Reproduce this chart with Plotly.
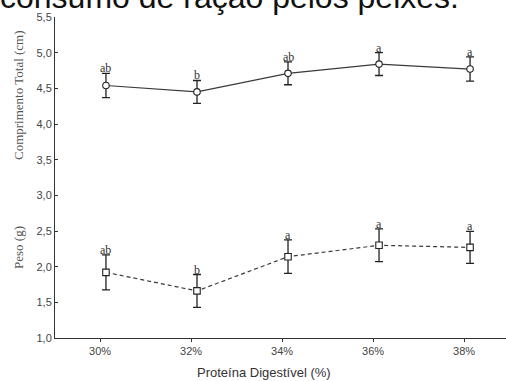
import plotly.graph_objects as go

categories = ["30%", "32%", "34%", "36%", "38%"]
x_vals = [30, 32, 34, 36, 38]

comprimento = [4.54, 4.45, 4.71, 4.84, 4.77]
comprimento_err = [0.17, 0.16, 0.16, 0.16, 0.17]
comprimento_letters = ["ab", "b", "ab", "a", "a"]

peso = [1.92, 1.66, 2.14, 2.30, 2.27]
peso_err = [0.245, 0.23, 0.235, 0.23, 0.225]
peso_letters = ["ab", "b", "a", "a", "a"]

y_ticks = [1.0, 1.5, 2.0, 2.5, 3.0, 3.5, 4.0, 4.5, 5.0, 5.5]

line_col = "#3a3a3a"
err_col = "#222222"
serif = "Liberation Serif, Times New Roman, serif"
sans = "Arial, Liberation Sans, sans-serif"

fig = go.Figure()

fig.add_trace(go.Scatter(
    x=x_vals, y=comprimento, mode="lines+markers",
    line=dict(color=line_col, width=1.2),
    marker=dict(symbol="circle", size=6.5, color="white", line=dict(color="#222", width=1.1)),
    error_y=dict(type="data", array=comprimento_err, color=err_col, thickness=1.3, width=4),
    showlegend=False,
))
fig.add_trace(go.Scatter(
    x=x_vals, y=peso, mode="lines+markers",
    line=dict(color=line_col, width=1.2, dash="4px,3px"),
    marker=dict(symbol="square", size=6.5, color="white", line=dict(color="#222", width=1.1)),
    error_y=dict(type="data", array=peso_err, color=err_col, thickness=1.3, width=4),
    showlegend=False,
))

annotations = []
for xv, yv, e, t in zip(x_vals, comprimento, comprimento_err, comprimento_letters):
    annotations.append(dict(x=xv, y=yv + e, xref="x", yref="y", text=t, showarrow=False,
                            yanchor="bottom", yshift=-4,
                            font=dict(family=serif, size=12, color="#333")))
for xv, yv, e, t in zip(x_vals, peso, peso_err, peso_letters):
    annotations.append(dict(x=xv, y=yv + e, xref="x", yref="y", text=t, showarrow=False,
                            yanchor="bottom", yshift=-4,
                            font=dict(family=serif, size=12, color="#333")))

# y-axis titles
annotations.append(dict(xref="paper", yref="paper", x=(18 - 55) / 451, y=(338 - 95) / 321,
                        text="Comprimento Total (cm)", textangle=-90, showarrow=False,
                        xanchor="center", yanchor="middle",
                        font=dict(family=serif, size=13, color="#555")))
annotations.append(dict(xref="paper", yref="paper", x=(18 - 55) / 451, y=(338 - 248) / 321,
                        text="Peso (g)", textangle=-90, showarrow=False,
                        xanchor="center", yanchor="middle",
                        font=dict(family=serif, size=13, color="#555")))
# x-axis title
annotations.append(dict(xref="paper", yref="paper", x=(264 - 55) / 451, y=(338 - 373) / 321,
                        text="Proteína Digestível (%)", showarrow=False,
                        xanchor="center", yanchor="middle",
                        font=dict(family=sans, size=13, color="#333")))
# cropped document text at top
annotations.append(dict(xref="paper", yref="paper", x=(-2 - 55) / 451, y=1 + (17 + 2.6) / 321,
                        text="consumo de ração pelos peixes.", showarrow=False,
                        xanchor="left", yanchor="middle",
                        font=dict(family=sans, size=32, color="#111")))

fig.update_layout(
    width=506, height=381,
    margin=dict(l=55, r=0, t=17, b=43),
    paper_bgcolor="white", plot_bgcolor="white",
    annotations=annotations,
    font=dict(family=sans, size=11, color="#444"),
)
fig.update_xaxes(
    range=[28.88, 38.79],
    tickvals=[v - 0.13 for v in x_vals], ticktext=categories,
    showline=True, linecolor="#333", linewidth=1, mirror=False,
    ticks="outside", ticklen=3, tickcolor="#333",
    showgrid=False, zeroline=False,
    tickfont=dict(size=11, color="#444"),
)
fig.update_yaxes(
    range=[1.0, 5.5],
    tickvals=y_ticks, ticktext=[f"{v:.1f}".replace(".", ",") for v in y_ticks],
    showline=True, linecolor="#333", linewidth=1,
    ticks="inside", ticklen=3, tickcolor="#333",
    showgrid=False, zeroline=False,
    tickfont=dict(size=11, color="#444"),
)

fig.write_html("out.html", config={"displayModeBar": False},
               post_script="document.body.style.margin='0';document.body.style.overflow='hidden';")
